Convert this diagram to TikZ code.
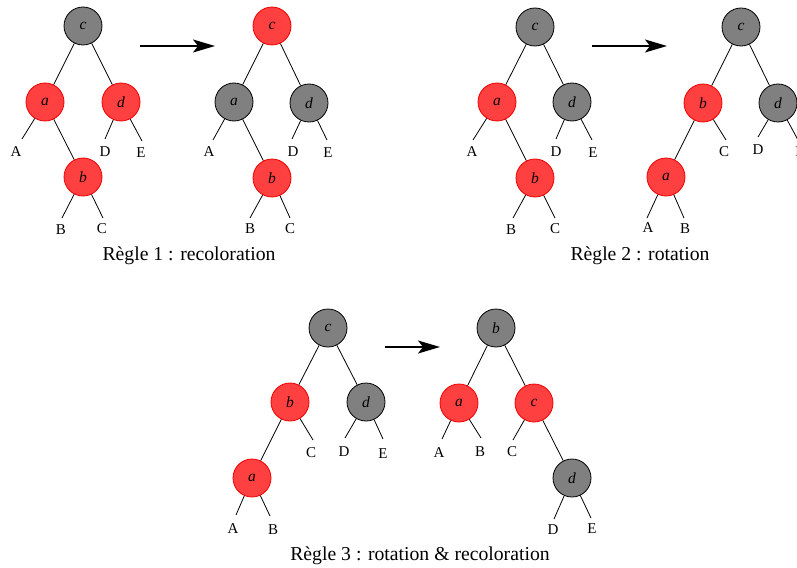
\documentclass[tikz,border=0pt]{standalone}
\usepackage{fontspec}
\setmainfont{Liberation Serif}
\usetikzlibrary{arrows.meta}

\definecolor{nodered}{HTML}{FF4040}
\definecolor{nodeborder}{HTML}{F00000}
\definecolor{nodegray}{HTML}{808080}

\tikzset{
  rbnode/.style={circle, minimum size=38pt, inner sep=0pt, line width=0.8pt,
                 font=\fontsize{15.5}{15.5}\selectfont\itshape},
  rednode/.style={rbnode, fill=nodered, draw=nodeborder},
  blacknode/.style={rbnode, fill=nodegray, draw=black},
  leaf/.style={inner sep=0pt, font=\fontsize{15}{15}\selectfont},
  branch/.style={line width=0.8pt},
  caption/.style={inner sep=0pt, font=\fontsize{19.7}{20}\selectfont},
  move/.style={line width=1.3pt, -{Stealth[length=22pt,width=13pt,inset=5pt]}}
}

\begin{document}
\begin{tikzpicture}[x=1pt, y=-1pt]
\useasboundingbox (0,0) rectangle (797,567);
\clip (0,0) rectangle (797,567);

% ---------- Rule 1, before ----------
\node[blacknode] (c1l) at (83,26) {c};
\node[rednode]   (a1l) at (45,102) {a};
\node[rednode]   (d1l) at (121,102) {d};
\node[rednode]   (b1l) at (83,177) {b};
\coordinate (A1le) at (22,139);  \node[leaf] (A1l) at (16,152) {A};
\coordinate (D1le) at (105,139); \node[leaf] (D1l) at (105,152) {D};
\coordinate (E1le) at (142,141); \node[leaf] (E1l) at (141,153) {E};
\coordinate (B1le) at (62,218);  \node[leaf] (B1l) at (61,230) {B};
\coordinate (C1le) at (103,218); \node[leaf] (C1l) at (102,229) {C};
\draw[branch] (c1l) -- (a1l);
\draw[branch] (c1l) -- (d1l);
\draw[branch] (a1l) -- (b1l);
\draw[branch] (a1l) -- (A1le);
\draw[branch] (d1l) -- (D1le);
\draw[branch] (d1l) -- (E1le);
\draw[branch] (b1l) -- (B1le);
\draw[branch] (b1l) -- (C1le);

% ---------- Rule 1, arrow ----------
\coordinate (m1s) at (140,46);
\coordinate (m1e) at (215,46);
\draw[move] (m1s) -- (m1e);

% ---------- Rule 1, after ----------
\node[rednode]   (c1r) at (272,26) {c};
\node[blacknode] (a1r) at (234,102) {a};
\node[blacknode] (d1r) at (309,103) {d};
\node[rednode]   (b1r) at (272,178) {b};
\coordinate (A1re) at (213,140); \node[leaf] (A1r) at (209,152) {A};
\coordinate (D1re) at (292,139); \node[leaf] (D1r) at (293,152) {D};
\coordinate (E1re) at (327,140); \node[leaf] (E1r) at (328,153) {E};
\coordinate (B1re) at (250,218); \node[leaf] (B1r) at (250,229) {B};
\coordinate (C1re) at (290,218); \node[leaf] (C1r) at (290,229) {C};
\draw[branch] (c1r) -- (a1r);
\draw[branch] (c1r) -- (d1r);
\draw[branch] (a1r) -- (b1r);
\draw[branch] (a1r) -- (A1re);
\draw[branch] (d1r) -- (D1re);
\draw[branch] (d1r) -- (E1re);
\draw[branch] (b1r) -- (B1re);
\draw[branch] (b1r) -- (C1re);

\node[caption] (cap1) at (189,256) {Règle 1 : recoloration};

% ---------- Rule 2, before ----------
\node[blacknode] (c2l) at (535,27) {c};
\node[rednode]   (a2l) at (497,102) {a};
\node[blacknode] (d2l) at (572,102) {d};
\node[rednode]   (b2l) at (535,178) {b};
\coordinate (A2le) at (473,140); \node[leaf] (A2l) at (472,152) {A};
\coordinate (D2le) at (556,139); \node[leaf] (D2l) at (556,152) {D};
\coordinate (E2le) at (592,140); \node[leaf] (E2l) at (593,153) {E};
\coordinate (B2le) at (513,218); \node[leaf] (B2l) at (511,230) {B};
\coordinate (C2le) at (555,218); \node[leaf] (C2l) at (555,229) {C};
\draw[branch] (c2l) -- (a2l);
\draw[branch] (c2l) -- (d2l);
\draw[branch] (a2l) -- (b2l);
\draw[branch] (a2l) -- (A2le);
\draw[branch] (d2l) -- (D2le);
\draw[branch] (d2l) -- (E2le);
\draw[branch] (b2l) -- (B2le);
\draw[branch] (b2l) -- (C2le);

% ---------- Rule 2, arrow ----------
\coordinate (m2s) at (592,46);
\coordinate (m2e) at (667,46);
\draw[move] (m2s) -- (m2e);

% ---------- Rule 2, after ----------
\node[blacknode] (c2r) at (741,27) {c};
\node[rednode]   (b2r) at (703,103) {b};
\node[blacknode] (d2r) at (778,103) {d};
\node[rednode]   (a2r) at (666,177) {a};
\coordinate (C2re) at (726,140); \node[leaf] (C2r) at (724,152) {C};
\coordinate (D2re) at (758,137); \node[leaf] (D2r) at (758,150) {D};
\coordinate (E2re) at (798,140); \node[leaf] (E2r) at (800,152) {E};
\coordinate (A2re) at (647,218); \node[leaf] (A2r) at (648,228) {A};
\coordinate (B2re) at (684,218); \node[leaf] (B2r) at (685,229) {B};
\draw[branch] (c2r) -- (b2r);
\draw[branch] (c2r) -- (d2r);
\draw[branch] (b2r) -- (a2r);
\draw[branch] (b2r) -- (C2re);
\draw[branch] (d2r) -- (D2re);
\draw[branch] (d2r) -- (E2re);
\draw[branch] (a2r) -- (A2re);
\draw[branch] (a2r) -- (B2re);

\node[caption] (cap2) at (640,256) {Règle 2 : rotation};

% ---------- Rule 3, before ----------
\node[blacknode] (c3l) at (328,328) {c};
\node[rednode]   (b3l) at (290,402) {b};
\node[blacknode] (d3l) at (366,402) {d};
\node[rednode]   (a3l) at (252,478) {a};
\coordinate (C3le) at (313,440); \node[leaf] (C3l) at (311,453) {C};
\coordinate (D3le) at (345,438); \node[leaf] (D3l) at (344,452) {D};
\coordinate (E3le) at (383,439); \node[leaf] (E3l) at (383,454) {E};
\coordinate (A3le) at (236,515); \node[leaf] (A3l) at (233,529) {A};
\coordinate (B3le) at (270,516); \node[leaf] (B3l) at (273,530) {B};
\draw[branch] (c3l) -- (b3l);
\draw[branch] (c3l) -- (d3l);
\draw[branch] (b3l) -- (a3l);
\draw[branch] (b3l) -- (C3le);
\draw[branch] (d3l) -- (D3le);
\draw[branch] (d3l) -- (E3le);
\draw[branch] (a3l) -- (A3le);
\draw[branch] (a3l) -- (B3le);

% ---------- Rule 3, arrow ----------
\coordinate (m3s) at (385,347);
\coordinate (m3e) at (440,347);
\draw[move] (m3s) -- (m3e);

% ---------- Rule 3, after ----------
\node[blacknode] (b3r) at (496,328) {b};
\node[rednode]   (a3r) at (459,403) {a};
\node[rednode]   (c3r) at (534,403) {c};
\node[blacknode] (d3r) at (572,478) {d};
\coordinate (A3re) at (442,439); \node[leaf] (A3r) at (439,453) {A};
\coordinate (B3re) at (481,438); \node[leaf] (B3r) at (480,452) {B};
\coordinate (C3re) at (513,440); \node[leaf] (C3r) at (512,452) {C};
\coordinate (D3re) at (554,519); \node[leaf] (D3r) at (553,530) {D};
\coordinate (E3re) at (591,518); \node[leaf] (E3r) at (592,529) {E};
\draw[branch] (b3r) -- (a3r);
\draw[branch] (b3r) -- (c3r);
\draw[branch] (c3r) -- (d3r);
\draw[branch] (a3r) -- (A3re);
\draw[branch] (a3r) -- (B3re);
\draw[branch] (c3r) -- (C3re);
\draw[branch] (d3r) -- (D3re);
\draw[branch] (d3r) -- (E3re);

\node[caption] (cap3) at (420,556) {Règle 3 : rotation \& recoloration};
\end{tikzpicture}
\end{document}
